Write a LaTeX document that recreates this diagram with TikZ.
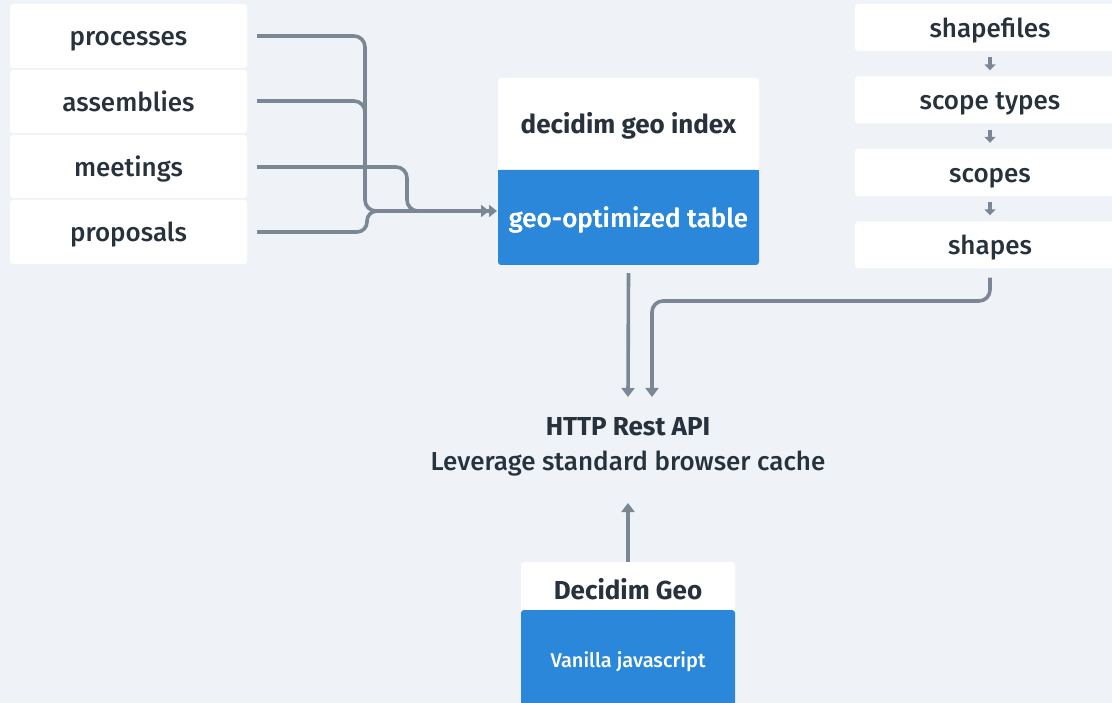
\documentclass[tikz,border=0pt]{standalone}
\usepackage{fontspec}
\IfFontExistsTF{Fira Sans Medium}{\setmainfont{Fira Sans}[UprightFont=* Medium,BoldFont=* Bold]}{\setmainfont{Fira Sans}}
\usetikzlibrary{arrows.meta,calc}
\definecolor{bg}{HTML}{EFF3F7}
\definecolor{ln}{HTML}{7B8794}
\definecolor{tx}{HTML}{28323D}
\definecolor{blu}{HTML}{2B87D9}
\begin{document}
\begin{tikzpicture}[x=1pt,y=-1pt,
  txt/.style={text height=20pt,text depth=0pt},
  wbox/.style={fill=white,rounded corners=3pt,inner sep=0pt,text=tx,txt,font=\fontsize{26}{30}\selectfont},
  bbox/.style={fill=blu,rounded corners=3pt,inner sep=0pt,text=white,txt,font=\fontsize{26}{30}\selectfont},
  conn/.style={draw=ln,line width=3.6pt,rounded corners=11pt},
  tip/.style={-{Triangle[length=9pt,width=13pt]}},
  dtip/.style={-{Triangle[length=8pt,width=12pt]Triangle[length=8pt,width=12pt]}},
  small/.style={draw=ln,line width=3.2pt,-{Triangle[length=6pt,width=11pt]}}]
\fill[bg] (0,0) rectangle (1112,703);
\useasboundingbox (0,0) rectangle (1112,703);
% left boxes
\node[wbox,minimum width=237pt,minimum height=64pt] (proc) at (128.5,36) {processes};
\node[wbox,minimum width=237pt,minimum height=63pt] (asm) at (128.5,101.5) {assemblies};
\node[wbox,minimum width=237pt,minimum height=63pt] (meet) at (128.5,166.5) {meetings};
\node[wbox,minimum width=237pt,minimum height=64pt] (prop) at (128.5,232) {proposals};
% center box
\node[wbox,minimum width=261pt,minimum height=92pt,font=\fontsize{26}{30}\bfseries\selectfont] (idx) at (628.5,124) {decidim geo index};
\node[bbox,minimum width=261pt,minimum height=95pt] (tab) at (628.5,217.5) {geo-optimized table};
\fill[blu] (idx.south west) rectangle ($(tab.north east)+(0,8)$);
\node[txt,inner sep=0pt,text=white,font=\fontsize{26}{30}\selectfont] at (tab) {geo-optimized table};
% right boxes
\node[wbox,minimum width=270pt,minimum height=47pt] (shp) at (990,27.5) {shapefiles};
\node[wbox,minimum width=270pt,minimum height=47pt] (st) at (990,100) {scope types};
\node[wbox,minimum width=270pt,minimum height=47pt] (sc) at (990,172.5) {scopes};
\node[wbox,minimum width=270pt,minimum height=47pt] (sh) at (990,245) {shapes};
% API text
\node[text=tx,font=\fontsize{26}{30}\bfseries\selectfont] (api) at (628,427) {HTTP Rest API};
\node[text=tx,font=\fontsize{26}{30}\selectfont] (cache) at (628,464) {Leverage standard browser cache};
% bottom box
\node[wbox,minimum width=214pt,minimum height=54pt,font=\fontsize{26}{30}\bfseries\selectfont] (dg) at (628,589) {Decidim Geo};
\node[bbox,minimum width=214pt,minimum height=100pt,font=\fontsize{20}{24}\selectfont,text height=14pt] (vj) at (628,660) {Vanilla javascript};
% coordinates
\coordinate (m1) at (257,36);
\coordinate (m2) at (257,101);
\coordinate (m3) at (257,167);
\coordinate (m4) at (257,232);
\coordinate (in) at (497,211);
\coordinate (a1) at (628,397);
\coordinate (a2) at (652,397);
\coordinate (up) at (628,503);
% connectors left
\draw[conn] (m1) -- (365,36) -- (365,211) -- (450,211);
\draw[conn] (m2) -- (365,101) -- (365,130);
\draw[conn] (m3) -- (407,167) -- (407,211) -- (450,211);
\draw[conn,rounded corners=10pt] (m4) -- (367,232) -- (367,211) -- (450,211);
\draw[conn,dtip] (440,211) -- (in);
% connectors right column
\draw[small] ($(shp.south)+(0,6)$) -- ($(st.north)+(0,-6)$);
\draw[small] ($(st.south)+(0,6)$) -- ($(sc.north)+(0,-6)$);
\draw[small] ($(sc.south)+(0,6)$) -- ($(sh.north)+(0,-6)$);
% to API
\draw[conn,tip] ($(tab.south)+(0,8)$) -- (a1);
\draw[conn,tip] ($(sh.south)+(0,9)$) -- (990,301) -- (652,301) -- (a2);
\draw[conn,tip] (dg.north) -- (up);
\end{tikzpicture}
\end{document}
